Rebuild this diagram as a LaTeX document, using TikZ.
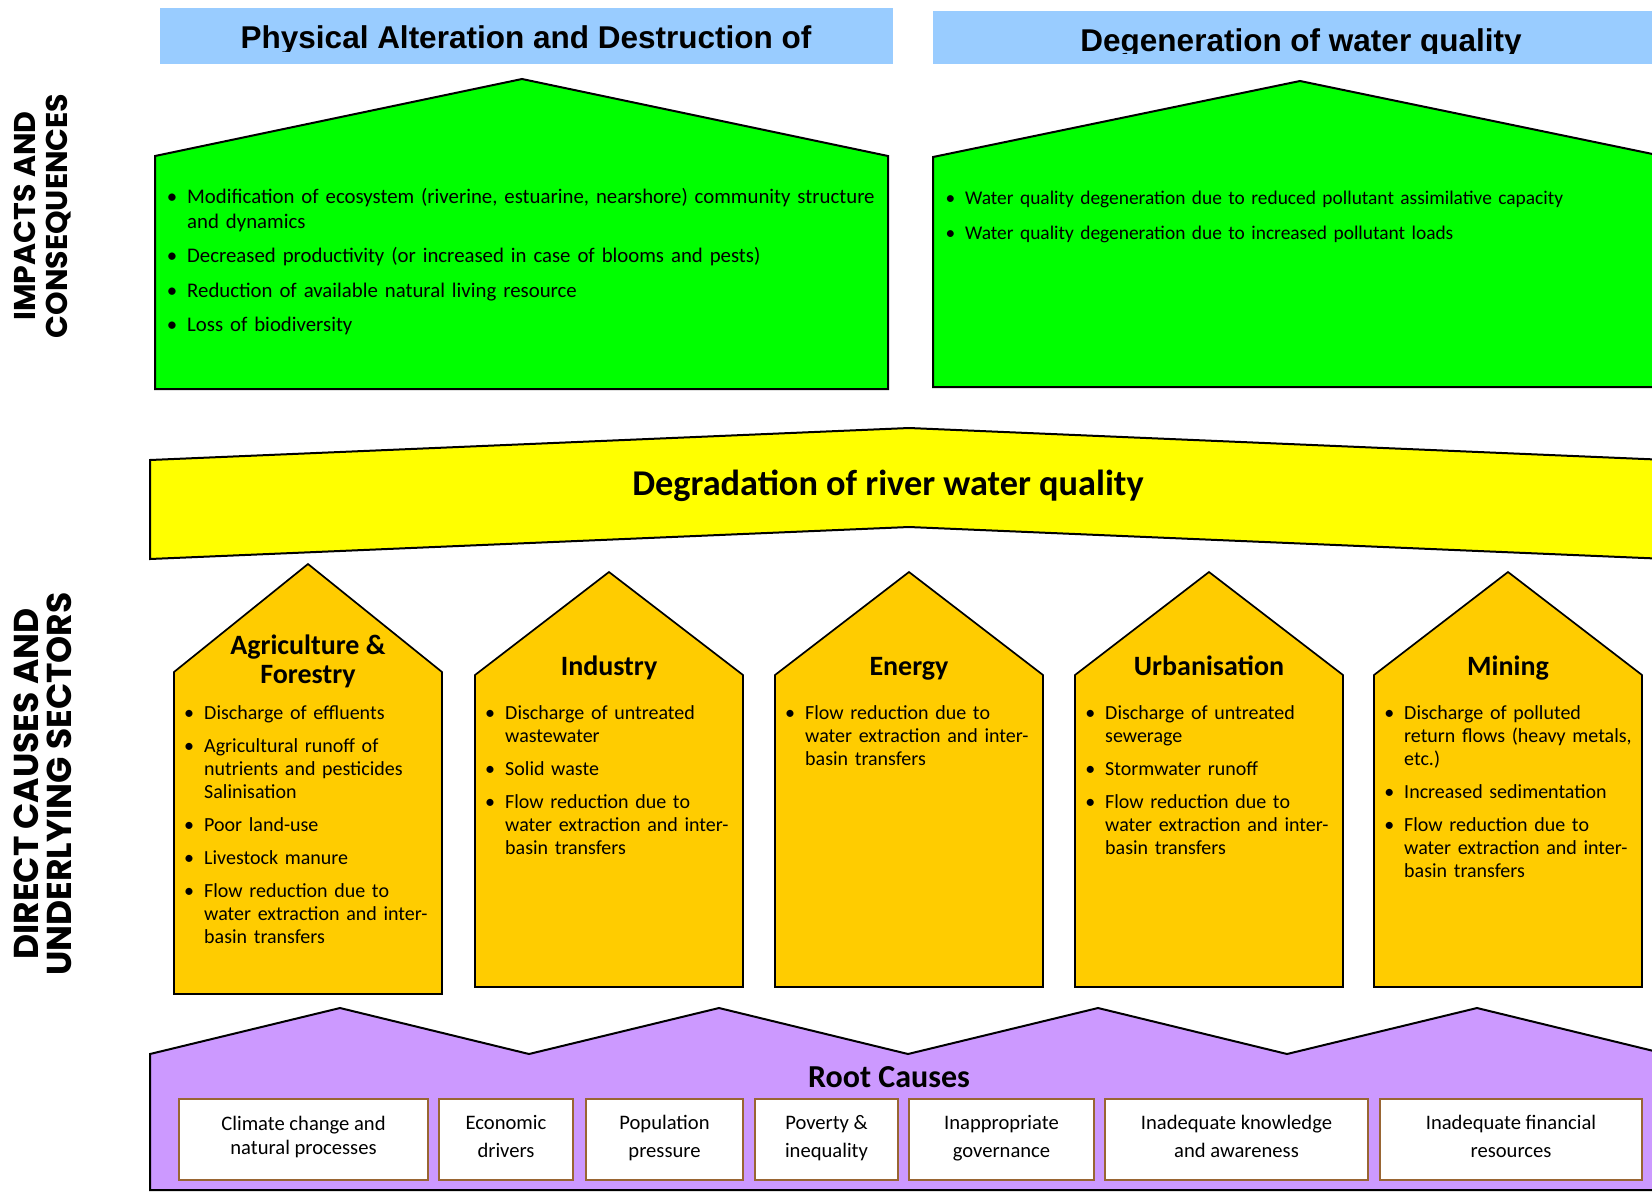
\documentclass[tikz,border=0pt]{standalone}
\usepackage{fontspec}
\setmainfont{Carlito}
\newfontfamily\headfont{Liberation Sans}
\newfontfamily\sidefont{Poppins}
\usepackage{enumitem}
\setlist[itemize]{label=\textbullet, leftmargin=15pt, labelsep=10pt, itemsep=10pt, parsep=0pt, topsep=0pt, partopsep=0pt}
\usetikzlibrary{positioning}
\definecolor{barblue}{HTML}{99CCFF}
\definecolor{impactgreen}{HTML}{00FF00}
\definecolor{banneryellow}{HTML}{FFFF00}
\definecolor{sectororange}{HTML}{FFCC00}
\definecolor{rootpurple}{HTML}{CC99FF}
\definecolor{rootbrown}{HTML}{996633}

\begin{document}
\begin{tikzpicture}[
  x=1pt, y=-1pt,
  outline/.style={draw=black, line width=2pt, line join=miter},
  sector/.style={outline, fill=sectororange, line width=1.7pt},
  headtxt/.style={anchor=base, inner sep=0pt, font=\headfont\bfseries\fontsize{31.5}{36}\selectfont},
  sidelbl/.style={rotate=90, align=center, inner sep=0pt, font=\sidefont\bfseries\fontsize{30}{32}\selectfont},
  impactlist/.style={anchor=north west, inner sep=0pt, text width=740pt, align=left, font=\fontsize{20.8}{24.5}\selectfont},
  sectlist/.style={anchor=north west, inner sep=0pt, text width=250pt, align=left, font=\fontsize{20}{23}\selectfont},
  secthead/.style={anchor=base, align=center, inner sep=0pt, font=\bfseries\fontsize{28}{29}\selectfont},
  rootbox/.style={draw=rootbrown, line width=2.8pt, fill=white, align=center, inner sep=0pt,
                  minimum height=81pt, font=\fontsize{20.6}{28}\selectfont}
]
\useasboundingbox (0,0) rectangle (1652,1192);
\clip (0,0) rectangle (1652,1192);

% header bars
\fill[barblue] (160,8) rectangle (893,64);
\fill[barblue] (933,11) rectangle (1660,64);
\begin{scope}
  \clip (160,8) rectangle (893,51);
  \node[headtxt] (physhead) at (526,48) {Physical Alteration and Destruction of};
\end{scope}
\begin{scope}
  \clip (933,11) rectangle (1660,53);
  \node[headtxt] (waterhead) at (1301,51) {Degeneration of water quality};
\end{scope}

% side labels
\node[sidelbl] (impactlbl) at (43,216) {IMPACTS AND\\CONSEQUENCES};
\node[sidelbl, font=\sidefont\bfseries\fontsize{34.5}{33}\selectfont] (directlbl) at (43,784) {DIRECT CAUSES AND\\UNDERLYING SECTORS};

% impacts
\draw[outline, fill=impactgreen] (155,389) -- (155,156) -- (522,79) -- (888,156) -- (888,389) -- cycle;
\draw[outline, fill=impactgreen] (933,387) -- (933,157) -- (1300,81) -- (1667,157) -- (1667,387) -- cycle;

\node[impactlist] (physlist) at (172,179) {%
\begin{itemize}[itemsep=10pt]
\item Modification of ecosystem (riverine, estuarine, nearshore) community structure\newline and dynamics
\item Decreased productivity (or increased in case of blooms and pests)
\item Reduction of available natural living resource
\item Loss of biodiversity
\end{itemize}};
\node[impactlist, font=\fontsize{19.4}{24.5}\selectfont] (waterlist) at (950,180) {%
\begin{itemize}[itemsep=10pt]
\item Water quality degeneration due to reduced pollutant assimilative capacity
\item Water quality degeneration due to increased pollutant loads
\end{itemize}};

% problem banner
\draw[outline, fill=banneryellow] (150,460) -- (909,428) -- (1668,460) -- (1668,559) -- (909,527) -- (150,559) -- cycle;
\node[anchor=base, inner sep=0pt, font=\bfseries\fontsize{36.3}{40}\selectfont] (bannertitle) at (888,495)
  {Degradation of river water quality};

% sectors
\draw[sector] (174,994) -- (174,672) -- (308,564) -- (442,672) -- (442,994) -- cycle;
\foreach \x in {475,775,1075,1374}
  \draw[sector] (\x,987) -- (\x,675) -- (\x+134,572) -- (\x+268,675) -- (\x+268,987) -- cycle;

\node[secthead] (agrihead) at (308,683) {Agriculture \&\\Forestry};
\node[secthead] (indhead) at (609,675) {Industry};
\node[secthead] (enghead) at (909,675) {Energy};
\node[secthead] (urbhead) at (1209,675) {Urbanisation};
\node[secthead] (minhead) at (1508,675) {Mining};

\node[sectlist] (agrilist) at (189,696) {%
\begin{itemize}
\item Discharge of effluents
\item Agricultural runoff of\newline nutrients and pesticides\newline Salinisation
\item Poor land-use
\item Livestock manure
\item Flow reduction due to\newline water extraction and inter-\newline basin transfers
\end{itemize}};
\node[sectlist] (indlist) at (490,696) {%
\begin{itemize}
\item Discharge of untreated\newline wastewater
\item Solid waste
\item Flow reduction due to\newline water extraction and inter-\newline basin transfers
\end{itemize}};
\node[sectlist] (englist) at (790,696) {%
\begin{itemize}
\item Flow reduction due to\newline water extraction and inter-\newline basin transfers
\end{itemize}};
\node[sectlist] (urblist) at (1090,696) {%
\begin{itemize}
\item Discharge of untreated\newline sewerage
\item Stormwater runoff
\item Flow reduction due to\newline water extraction and inter-\newline basin transfers
\end{itemize}};
\node[sectlist] (minlist) at (1389,696) {%
\begin{itemize}
\item Discharge of polluted\newline return flows (heavy metals,\newline etc.)
\item Increased sedimentation
\item Flow reduction due to\newline water extraction and inter-\newline basin transfers
\end{itemize}};

% root causes
\draw[outline, fill=rootpurple] (150,1190) -- (150,1054) -- (340,1008) -- (529,1054) -- (719,1008) -- (908,1054)
  -- (1098,1008) -- (1287,1054) -- (1477,1008) -- (1666,1054) -- (1666,1190) -- cycle;
\node[anchor=base, inner sep=0pt, font=\bfseries\fontsize{32}{34}\selectfont] (roottitle) at (889,1087) {Root Causes};

\node[rootbox, minimum width=249pt, font=\fontsize{20.6}{24}\selectfont] (climate) at (303.5,1139.5) {Climate change and\\natural processes\rule[-9pt]{0pt}{0pt}};
\node[rootbox, minimum width=134pt] (economic) at (506,1139.5) {Economic\\drivers\rule[-6pt]{0pt}{0pt}};
\node[rootbox, minimum width=157pt] (population) at (664.5,1139.5) {Population\\pressure\rule[-6pt]{0pt}{0pt}};
\node[rootbox, minimum width=143pt] (poverty) at (826.5,1139.5) {Poverty \&\\inequality\rule[-6pt]{0pt}{0pt}};
\node[rootbox, minimum width=185pt] (governance) at (1001.5,1139.5) {Inappropriate\\governance\rule[-6pt]{0pt}{0pt}};
\node[rootbox, minimum width=263pt] (knowledge) at (1236.5,1139.5) {Inadequate knowledge\\and awareness\rule[-6pt]{0pt}{0pt}};
\node[rootbox, minimum width=262pt] (finance) at (1511,1139.5) {Inadequate financial\\resources\rule[-6pt]{0pt}{0pt}};
\end{tikzpicture}
\end{document}
